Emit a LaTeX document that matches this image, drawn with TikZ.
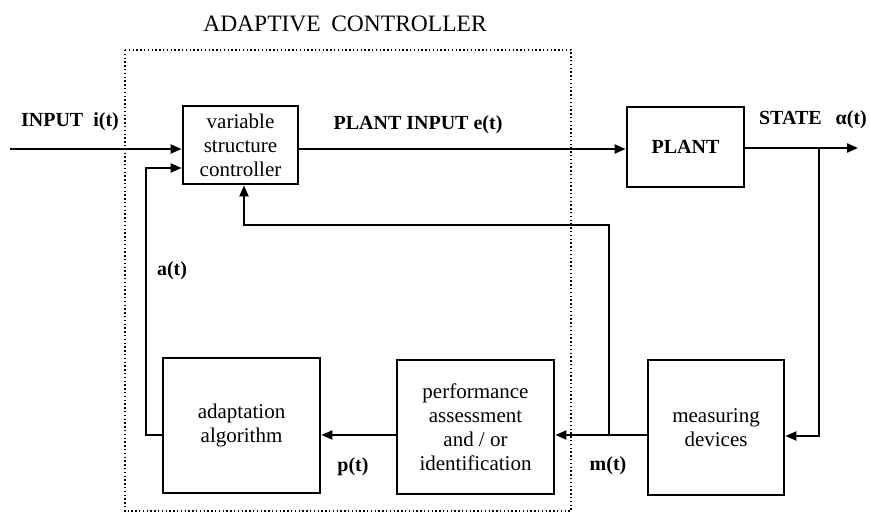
\documentclass[tikz,border=0pt]{standalone}
\usepackage{fontspec}
\setmainfont{Liberation Serif}
\usetikzlibrary{arrows.meta,calc}
\tikzset{
  blk/.style={draw, line width=2.8pt, align=center, inner sep=0pt,
    font=\fontsize{21}{24}\selectfont},
  sig/.style={line width=2.1pt},
  arr/.style={sig, -{Triangle[length=11pt,width=9pt]}},
  lbl/.style={font=\fontsize{20}{24}\selectfont\bfseries, inner sep=0pt},
  frame/.style={line width=1.8pt, dash pattern=on 1.4pt off 2.4pt}
}
\begin{document}
\begin{tikzpicture}[x=1pt,y=-1pt]
\useasboundingbox (0,0) rectangle (870,513);
\fill[white] (0,0) rectangle (870,513);

% dotted frame
\draw[frame] (125,50) rectangle (571,511);
\node[inner sep=0pt, font=\fontsize{23.5}{27}\selectfont] (title) at (345,24) {ADAPTIVE\hspace{0.45em}CONTROLLER};

% blocks
\node[blk, minimum width=115pt, minimum height=78pt] (vsc) at (240.5,145) {variable\\structure\\controller};
\node[blk, minimum width=117pt, minimum height=80pt, font=\fontsize{20}{24}\selectfont\bfseries] (plant) at (685.5,147) {PLANT};
\node[blk, minimum width=157pt, minimum height=135pt] (adapt) at (241.5,425.5) {adaptation\\algorithm};
\node[blk, minimum width=157pt, minimum height=134pt] (perf) at (475.5,427) {performance\\assessment\\and / or\\identification};
\node[blk, minimum width=136pt, minimum height=135pt] (meas) at (716,427.5) {measuring\\devices};

% free ends
\coordinate (in) at (10,149);
\coordinate (out) at (858,148);
\coordinate (br) at (819,148);
\coordinate (mt) at (609,435);

% labels
\node[lbl] (linput) at (70,122) {INPUT\hspace{0.5em}i(t)};
\node[lbl] (lplantin) at (418,125) {PLANT INPUT e(t)};
\node[lbl] (lstate) at (813,120) {STATE\hspace{0.7em}α(t)};
\node[lbl] (la) at (172,271) {a(t)};
\node[lbl] (lp) at (353,467) {p(t)};
\node[lbl] (lm) at (608,466) {m(t)};

% connectors
\draw[arr] (in) -- (in -| vsc.west);
\draw[arr] (vsc.east |- 0,149) -- (plant.west |- 0,149);
\draw[arr] (plant.east |- out) -- (out);
\draw[arr] (br) -- (br |- 0,436) -- (meas.east |- 0,436);
\draw[arr] (meas.west |- mt) -- (perf.east |- mt);
\draw[arr] (mt) -- (609,225) -- (244,225) -- (244,0 |- vsc.south);
\draw[arr] (perf.west |- 0,435) -- (adapt.east |- 0,435);
\draw[arr] (adapt.west |- 0,435) -- (146,435) -- (146,168) -- (vsc.west |- 0,168);
\end{tikzpicture}
\end{document}
